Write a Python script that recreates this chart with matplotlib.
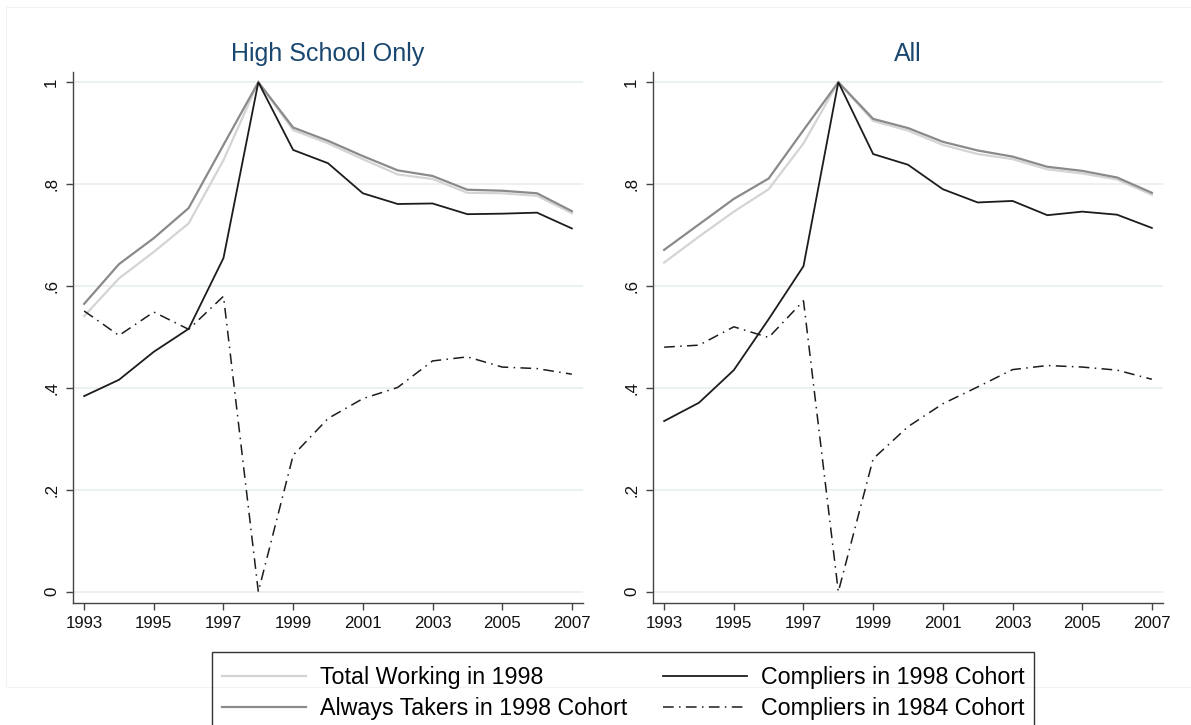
import matplotlib
matplotlib.use("Agg")
import matplotlib.pyplot as plt
from matplotlib.patches import Rectangle

plt.rcParams['font.family'] = ['Liberation Sans', 'DejaVu Sans']

years = list(range(1993, 2008))
xtick_years = list(range(1993, 2008, 2))
yticks = [0, 0.2, 0.4, 0.6, 0.8, 1.0]
ytick_labels = ["0", ".2", ".4", ".6", ".8", "1"]

panel_titles = ["High School Only", "All"]
series_labels = ["Total Working in 1998", "Always Takers in 1998 Cohort",
                 "Compliers in 1998 Cohort", "Compliers in 1984 Cohort"]

# High School Only
hs_total = [0.541, 0.615, 0.667, 0.723, 0.847, 1.0, 0.906, 0.880, 0.849,
            0.819, 0.810, 0.783, 0.782, 0.777, 0.743]
hs_always = [0.565, 0.643, 0.694, 0.753, 0.877, 1.0, 0.911, 0.885, 0.855,
             0.827, 0.816, 0.789, 0.787, 0.782, 0.747]
hs_comp98 = [0.384, 0.416, 0.471, 0.516, 0.655, 1.0, 0.867, 0.841, 0.782,
             0.761, 0.762, 0.741, 0.742, 0.744, 0.713]
hs_comp84 = [0.551, 0.503, 0.549, 0.515, 0.580, 0.0, 0.268, 0.340, 0.379,
             0.401, 0.453, 0.461, 0.441, 0.438, 0.427]

# All
all_total = [0.646, 0.697, 0.746, 0.790, 0.880, 1.0, 0.924, 0.905, 0.877,
             0.859, 0.849, 0.829, 0.821, 0.809, 0.779]
all_always = [0.671, 0.721, 0.771, 0.811, 0.906, 1.0, 0.928, 0.910, 0.883,
              0.866, 0.854, 0.834, 0.826, 0.813, 0.783]
all_comp98 = [0.335, 0.371, 0.435, 0.535, 0.639, 1.0, 0.859, 0.838, 0.790,
              0.764, 0.767, 0.739, 0.746, 0.740, 0.714]
all_comp84 = [0.480, 0.484, 0.520, 0.499, 0.571, 0.0, 0.261, 0.324, 0.369,
              0.402, 0.436, 0.444, 0.441, 0.435, 0.417]

panels = [
    [hs_total, hs_always, hs_comp98, hs_comp84],
    [all_total, all_always, all_comp98, all_comp84],
]

styles = [
    dict(color="#d4d4d4", lw=1.6, ls="-"),
    dict(color="#8a8a8a", lw=1.6, ls="-"),
    dict(color="#1c1c1c", lw=1.3, ls="-"),
    dict(color="#1c1c1c", lw=1.1, ls=(0, (7, 3.5, 1, 3.5))),
]

W, H = 1191, 725
fig = plt.figure(figsize=(W / 100, H / 100), dpi=100)

# faint outer plot-region frame
fig.patches.append(Rectangle((6 / W, 1 - 687 / H), 1.2, (687 - 7) / H,
                             transform=fig.transFigure, fill=False,
                             edgecolor="#f2f2f2", lw=0.8, zorder=0))

ax_lefts = [73 / W, 653 / W]
ax_w = 510 / W
ax_b = 1 - 603 / H
ax_h = (603 - 72) / H

grid_color = "#e8eff1"
spine_color = "#444444"

handles = None
for left, title, data in zip(ax_lefts, panel_titles, panels):
    ax = fig.add_axes([left, ax_b, ax_w, ax_h])
    lines = []
    for vals, st in zip(data, styles):
        ln, = ax.plot(years, vals, color=st["color"], lw=st["lw"],
                      linestyle=st["ls"], solid_joinstyle="miter")
        lines.append(ln)
    handles = lines
    ax.set_xlim(1992.68, 2007.32)
    ax.set_ylim(-0.022, 1.020)
    ax.set_xticks(xtick_years)
    ax.set_xticklabels([str(y) for y in xtick_years], fontsize=12.2)
    ax.set_yticks(yticks)
    ax.set_yticklabels(ytick_labels, fontsize=12.2, rotation=90, va="center")
    ax.yaxis.grid(True, color=grid_color, lw=1.2)
    ax.set_axisbelow(True)
    for s in ["top", "right"]:
        ax.spines[s].set_visible(False)
    for s in ["left", "bottom"]:
        ax.spines[s].set_color(spine_color)
        ax.spines[s].set_linewidth(1.0)
    ax.tick_params(axis="both", direction="out", length=5, width=1.0,
                   color=spine_color, labelcolor="#111111")
    ax.tick_params(axis="x", pad=4)
    ax.tick_params(axis="y", pad=5)
    ax.set_title(title, fontsize=18, color="#1a476f", pad=8)

# legend frame (runs past the bottom edge of the canvas)
fig.patches.append(Rectangle((212 / W, -0.1), (1034 - 212) / W,
                             0.1 + 1 - 652 / H, transform=fig.transFigure,
                             fill=False, edgecolor="#333333", lw=1.0, zorder=5))

leg = fig.legend(handles, series_labels,
                 loc="upper left", bbox_to_anchor=(222 / W, 1 - 666 / H),
                 ncol=2, fontsize=16.75, frameon=False,
                 handlelength=3.6, handletextpad=0.6,
                 columnspacing=1.55, labelspacing=0.34, borderpad=0,
                 borderaxespad=0)

fig.savefig("out.png", dpi=100)
